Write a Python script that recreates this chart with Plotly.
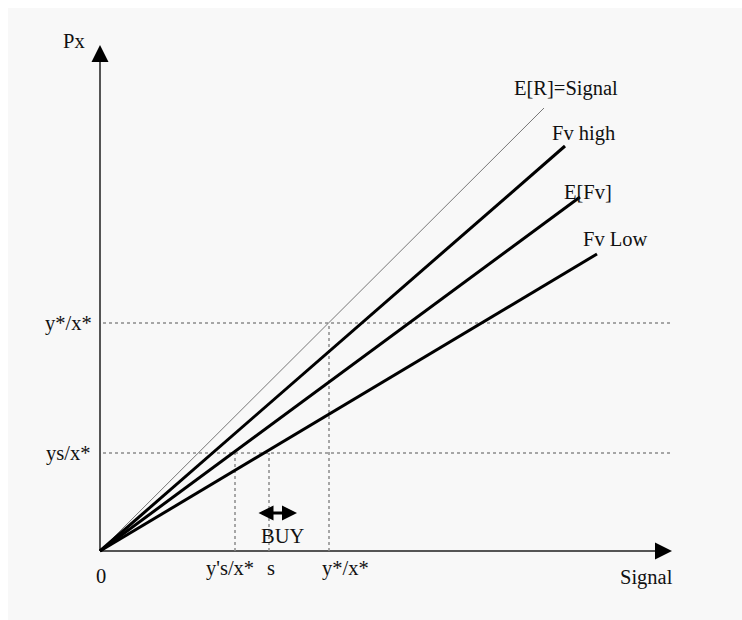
import plotly.graph_objects as go

# ---- data (diagram units) ----
line_names = ["E[R]=Signal", "Fv high", "E[Fv]", "Fv Low"]
line_end_x = [8.88, 9.30, 9.60, 9.94]
line_end_y = [8.86, 8.10, 7.08, 5.94]
line_label_x = [9.32, 9.66, 9.76, 10.30]
line_label_y = [9.26, 8.36, 7.18, 6.24]

level_names = ["y*/x*", "ys/x*"]
level_y = [4.56, 1.96]

vert_names = ["y's/x*", "s", "y*/x*"]
vert_x = [2.70, 3.38, 4.58]
vert_top = [1.96, 1.96, 4.56]
vert_label_x = [2.60, 3.42, 4.90]

x_axis_end = 11.44
y_axis_end = 10.12
buy_x = [3.14, 3.94]
buy_y = 0.76

FONT = "Liberation Serif"
FSIZE = 20.5
TXT = "#111111"

fig = go.Figure()

# axes lines
fig.add_trace(go.Scatter(x=[0, x_axis_end - 0.2], y=[0, 0], mode="lines",
                         line=dict(color="#555555", width=2), hoverinfo="skip"))
fig.add_trace(go.Scatter(x=[0, 0], y=[0, y_axis_end - 0.2], mode="lines",
                         line=dict(color="#555555", width=2), hoverinfo="skip"))

# dotted level lines
for ly in level_y:
    fig.add_trace(go.Scatter(x=[0.06, 11.4], y=[ly, ly], mode="lines",
                             line=dict(color="#8a8a8a", width=1.5, dash="dot"),
                             hoverinfo="skip"))
for vx, vt in zip(vert_x, vert_top):
    fig.add_trace(go.Scatter(x=[vx, vx], y=[0, vt], mode="lines",
                             line=dict(color="#8a8a8a", width=1.5, dash="dot"),
                             hoverinfo="skip"))

# rays from origin
for i, (ex, ey) in enumerate(zip(line_end_x, line_end_y)):
    thin = i == 0
    fig.add_trace(go.Scatter(x=[0, ex], y=[0, ey], mode="lines",
                             line=dict(color="#777777" if thin else "#000000",
                                       width=1 if thin else 3),
                             hoverinfo="skip"))

ann = []
# axis arrow heads
ann.append(dict(x=x_axis_end, y=0, ax=x_axis_end - 0.36, ay=0, xref="x", yref="y",
                axref="x", ayref="y", showarrow=True, arrowhead=2, arrowsize=1.7,
                arrowwidth=2, arrowcolor="#000000", text=""))
ann.append(dict(x=0, y=y_axis_end, ax=0, ay=y_axis_end - 0.36, xref="x", yref="y",
                axref="x", ayref="y", showarrow=True, arrowhead=2, arrowsize=1.7,
                arrowwidth=2, arrowcolor="#000000", text=""))
# BUY double arrow
ann.append(dict(x=buy_x[1], y=buy_y, ax=buy_x[0], ay=buy_y, xref="x", yref="y",
                axref="x", ayref="y", showarrow=True, arrowhead=2, arrowsize=1,
                arrowwidth=3, arrowside="end+start", arrowcolor="#000000", text=""))


def label(x, y, t):
    ann.append(dict(x=x, y=y, xref="x", yref="y", text=t, showarrow=False,
                    xanchor="center", yanchor="middle",
                    font=dict(family=FONT, size=FSIZE, color=TXT)))


for n, x, y in zip(line_names, line_label_x, line_label_y):
    label(x, y, n)
for n, y in zip(level_names, level_y):
    label(-0.64, y, n)
for n, x in zip(vert_names, vert_label_x):
    label(x, -0.34, n)
label(3.64, 0.30, "BUY")
label(0.02, -0.50, "0")
label(10.92, -0.52, "Signal")
label(-0.52, 10.2, "Px")

fig.update_layout(
    width=734, height=612,
    margin=dict(l=0, r=0, t=0, b=0),
    paper_bgcolor="#f8f8f8", plot_bgcolor="#f8f8f8",
    showlegend=False,
    xaxis=dict(range=[-1.84, 12.84], visible=False, fixedrange=True),
    yaxis=dict(range=[-1.38, 10.86], visible=False, fixedrange=True),
    annotations=ann,
)

fig.write_html(
    "out.html",
    post_script="document.body.style.margin='8px 0 0 8px';"
                "document.documentElement.style.overflow='hidden';",
)
